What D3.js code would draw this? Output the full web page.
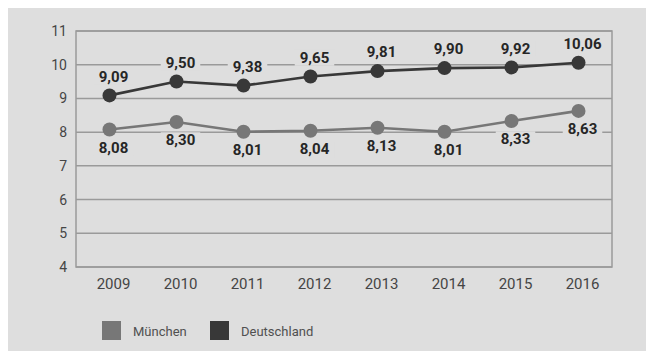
<!DOCTYPE html>
<html>
<head>
<meta charset="utf-8">
<script src="https://cdn.jsdelivr.net/npm/d3@7"></script>
<style>
  html, body { margin: 0; padding: 0; background: #ffffff; }
  svg { display: block; }
</style>
</head>
<body>
<svg id="chart" width="646" height="351"></svg>
<script>
// Jahre und Werte
const years = ["2009", "2010", "2011", "2012", "2013", "2014", "2015", "2016"];
const muenchen = [8.08, 8.30, 8.01, 8.04, 8.13, 8.01, 8.33, 8.63];
const deutschland = [9.09, 9.50, 9.38, 9.65, 9.81, 9.90, 9.92, 10.06];
const yTicks = [4, 5, 6, 7, 8, 9, 10, 11];
const seriesNames = ["München", "Deutschland"];

const bg = "#dedede";
const colors = { "München": "#777777", "Deutschland": "#383838" };
const font = "Roboto, 'Liberation Sans', sans-serif";

const svg = d3.select("#chart");
svg.append("rect").attr("x", 8).attr("y", 8).attr("width", 638).attr("height", 343).attr("fill", bg);

const plot = { left: 76, right: 612, top: 31, bottom: 267 };

const x = d3.scaleBand().domain(years).range([plot.left, plot.right]);
const y = d3.scaleLinear().domain([4, 11]).range([plot.bottom, plot.top]);
const cx = d => x(d) + x.bandwidth() / 2;

const fmt = v => v.toFixed(2).replace(".", ",");

// Gitterlinien
svg.append("g").selectAll("line").data(yTicks).join("line")
  .attr("x1", plot.left).attr("x2", plot.right)
  .attr("y1", d => y(d)).attr("y2", d => y(d))
  .attr("stroke", "#9a9a9a").attr("stroke-width", 1.5);

// Rahmen
svg.append("rect")
  .attr("x", plot.left).attr("y", plot.top)
  .attr("width", plot.right - plot.left).attr("height", plot.bottom - plot.top)
  .attr("fill", "none").attr("stroke", "#9a9a9a").attr("stroke-width", 1.5);

// Y-Achse
const yAxis = svg.append("g").attr("transform", `translate(${plot.left},0)`)
  .call(d3.axisLeft(y).tickValues(yTicks).tickFormat(d3.format("d")).tickSize(0).tickPadding(9));
yAxis.select(".domain").remove();
yAxis.selectAll("text").attr("font-family", font)
  .attr("font-size", 14).attr("fill", "#454545");

// X-Achse
const xAxis = svg.append("g").attr("transform", `translate(4,${plot.bottom})`)
  .call(d3.axisBottom(x).tickSize(0).tickPadding(11));
xAxis.select(".domain").remove();
xAxis.selectAll("text").attr("font-family", font)
  .attr("font-size", 15).attr("fill", "#454545");

const line = d3.line().x(d => cx(d.year)).y(d => y(d.value));

function drawSeries(name, values) {
  const data = years.map((yr, i) => ({ year: yr, value: values[i] }));
  const g = svg.append("g");
  g.append("path").datum(data).attr("d", line)
    .attr("fill", "none").attr("stroke", colors[name]).attr("stroke-width", 2.6);
  g.selectAll("circle").data(data).join("circle")
    .attr("cx", d => cx(d.year)).attr("cy", d => y(d.value)).attr("r", 7)
    .attr("fill", colors[name]);
  return data;
}

function drawLabels(data, labelDy) {
  const g = svg.append("g");
  data.forEach(d => {
    const lx = cx(d.year) + 4, ly = y(d.value) + labelDy;
    const t = g.append("text")
      .attr("x", lx).attr("y", ly).attr("dy", "0.35em")
      .attr("text-anchor", "middle")
      .attr("font-family", font)
      .attr("font-weight", "bold").attr("font-size", 15).attr("fill", "#262626")
      .text(fmt(d.value));
    const bb = t.node().getBBox();
    g.insert("rect", () => t.node())
      .attr("x", bb.x - 5).attr("y", bb.y + 1).attr("width", bb.width + 10).attr("height", bb.height - 2)
      .attr("fill", bg);
  });
}

const dM = drawSeries("München", muenchen);
const dD = drawSeries("Deutschland", deutschland);
drawLabels(dD, -19);
drawLabels(dM, 18);

// Legende
const legend = svg.append("g");
const legendX = [102, 210];
seriesNames.forEach((n, i) => {
  legend.append("rect").attr("x", legendX[i]).attr("y", 321).attr("width", 19).attr("height", 19)
    .attr("fill", colors[n]);
  legend.append("text").attr("x", legendX[i] + 31).attr("y", 331).attr("dy", "0.35em")
    .attr("font-family", font)
    .attr("font-size", 13).attr("fill", "#505050").text(n);
});
</script>
</body>
</html>
